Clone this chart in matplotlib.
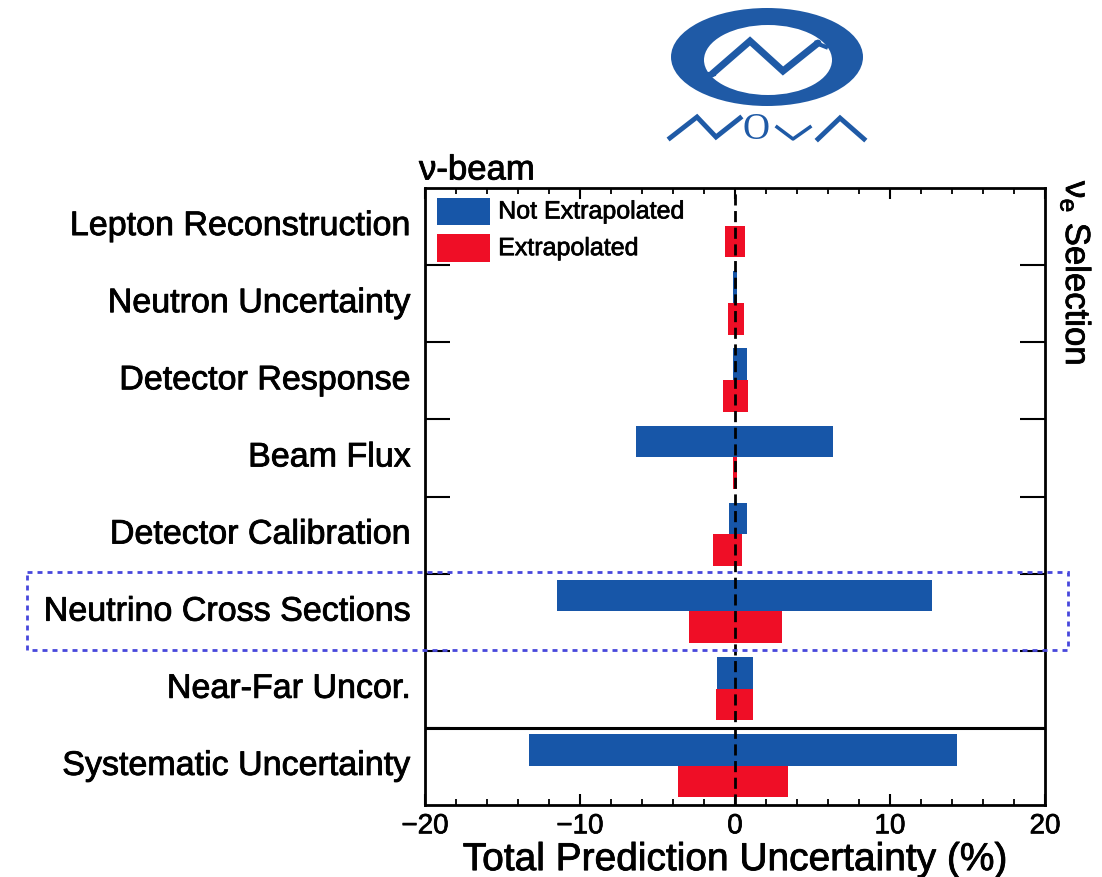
import matplotlib
matplotlib.use("Agg")
import matplotlib.pyplot as plt
import matplotlib.transforms as mtransforms
import matplotlib.patheffects as pe
from matplotlib.patches import Ellipse, Rectangle
import numpy as np

plt.rcParams['font.family'] = ['Liberation Sans', 'DejaVu Sans']
plt.rcParams['mathtext.fontset'] = 'custom'
plt.rcParams['mathtext.rm'] = 'Liberation Sans'
plt.rcParams['mathtext.it'] = 'Liberation Sans:italic'

# ---- data -------------------------------------------------------------
categories = ["Lepton Reconstruction", "Neutron Uncertainty", "Detector Response",
              "Beam Flux", "Detector Calibration", "Neutrino Cross Sections",
              "Near-Far Uncor.", "Systematic Uncertainty"]
series_names = ["Not Extrapolated", "Extrapolated"]
# lower / upper shifts of the predicted event count, in percent
not_extrap_low = [0.0, -0.10, -0.15, -6.4, -0.40, -11.5, -1.15, -13.3]
not_extrap_high = [0.0, 0.10, 0.75, 6.3, 0.75, 12.7, 1.15, 14.3]
extrap_low = [-0.65, -0.45, -0.75, -0.15, -1.40, -3.0, -1.25, -3.65]
extrap_high = [0.65, 0.55, 0.85, 0.10, 0.45, 3.0, 1.15, 3.45]
xtick_values = [-20, -10, 0, 10, 20]

BLUE = "#1756a8"
RED = "#ef0e26"
heavy = [pe.withStroke(linewidth=0.6, foreground='black')]

W, H = 1102, 877
fig = plt.figure(figsize=(W / 100, H / 100), dpi=100)
ax = fig.add_axes([425 / W, 1 - 805 / H, 620 / W, 617 / H])

rows = np.arange(len(categories))
bar_h = 0.41
blue_lo = np.array(not_extrap_low)
blue_hi = np.array(not_extrap_high)
red_lo = np.array(extrap_low)
red_hi = np.array(extrap_high)
ax.barh(rows + 0.285, blue_hi - blue_lo, left=blue_lo, height=bar_h,
        color=BLUE, linewidth=0, zorder=2)
ax.barh(rows + 0.695, red_hi - red_lo, left=red_lo, height=bar_h,
        color=RED, linewidth=0, zorder=2)

ax.axvline(0, color='black', lw=2.0, ls=(0, (4, 2)), zorder=3)
ax.axhline(len(categories) - 1, color='black', lw=2.2, zorder=3)

ax.set_xlim(-20, 20)
ax.set_ylim(len(categories), 0)
ax.set_xticks(xtick_values)
ax.set_xticklabels([f"{v}".replace("-", "\u2212") for v in xtick_values])
ax.set_xticks(np.arange(-20, 21, 2), minor=True)
ax.set_yticks(np.arange(1, len(categories)))
ax.set_yticklabels([])
ax.tick_params(axis='x', which='major', direction='in', top=True, bottom=True,
               length=8, width=1.5, labelsize=20, pad=6)
ax.tick_params(axis='x', which='minor', direction='in', top=True, bottom=True,
               length=4.5, width=1.3)
ax.tick_params(axis='y', which='major', direction='in', left=True, right=True,
               length=18, width=1.5)
for sp in ax.spines.values():
    sp.set_linewidth(2.0)
for t in ax.get_xticklabels():
    t.set_path_effects([pe.withStroke(linewidth=0.5, foreground='black')])

ax.set_xlabel("Total Prediction Uncertainty (%)", fontsize=28, labelpad=2,
              path_effects=heavy)

# category labels to the left of the frame
lab_tr = mtransforms.blended_transform_factory(ax.transAxes, ax.transData)
for r, name in enumerate(categories):
    ax.text(-0.023, r + 0.5, name, transform=lab_tr, ha='right', va='center',
            fontsize=24.5, path_effects=heavy)

# legend drawn as filled boxes with labels
for (y0, y1, col, name) in [(0.940, 0.984, BLUE, series_names[0]),
                            (0.880, 0.925, RED, series_names[1])]:
    ax.add_patch(Rectangle((0.019, y0), 0.086, y1 - y0, transform=ax.transAxes,
                           facecolor=col, edgecolor='none', zorder=4))
    ax.text(0.118, (y0 + y1) / 2, name, transform=ax.transAxes, ha='left',
            va='center', fontsize=18, zorder=4,
            path_effects=[pe.withStroke(linewidth=0.5, foreground='black')])

# ---- overlay in pixel coordinates ---------------------------------------
ov = fig.add_axes([0, 0, 1, 1], zorder=5)
ov.set_xlim(0, W)
ov.set_ylim(H, 0)
ov.axis('off')
ov.patch.set_alpha(0)

ov.text(419, 170, "\u03bd-beam", ha='left', va='center', fontsize=25,
        path_effects=heavy)
ov.text(1076, 181, r"$\mathregular{\nu_e}$ Selection", rotation=270,
        ha='center', va='top', fontsize=25, path_effects=heavy)

# highlight box around the cross-section row
ov.add_patch(Rectangle((27, 572), 1041, 78, fill=False, edgecolor='#4848dc',
                       lw=2.0, ls=(0, (1.8, 1.8))))

# experiment logo
LOGO = "#1f5aa6"
ov.add_patch(Ellipse((767, 57), 192, 98, facecolor=LOGO, edgecolor='none'))
ov.add_patch(Ellipse((768, 60), 128, 70, facecolor='white', edgecolor='none'))
ov.plot([712, 750, 783, 818], [74, 41, 71, 43], color=LOGO, lw=5,
        solid_joinstyle='miter', solid_capstyle='round')
ov.plot([706, 714], [74, 74], color=LOGO, lw=3)
ov.plot([816, 826], [43, 47], color=LOGO, lw=3)
ov.plot([670, 697, 716, 740], [138, 117, 137, 118], color=LOGO, lw=3.5,
        solid_joinstyle='miter')
ov.text(756, 130, "O", family='Liberation Serif', color=LOGO, fontsize=27,
        ha='center', va='center')
ov.plot([777, 793, 810], [127, 139, 127], color=LOGO, lw=2.5)
ov.plot([818, 840, 864], [139, 118, 139], color=LOGO, lw=3.5,
        solid_joinstyle='miter')

fig.savefig("out.png", dpi=100)
